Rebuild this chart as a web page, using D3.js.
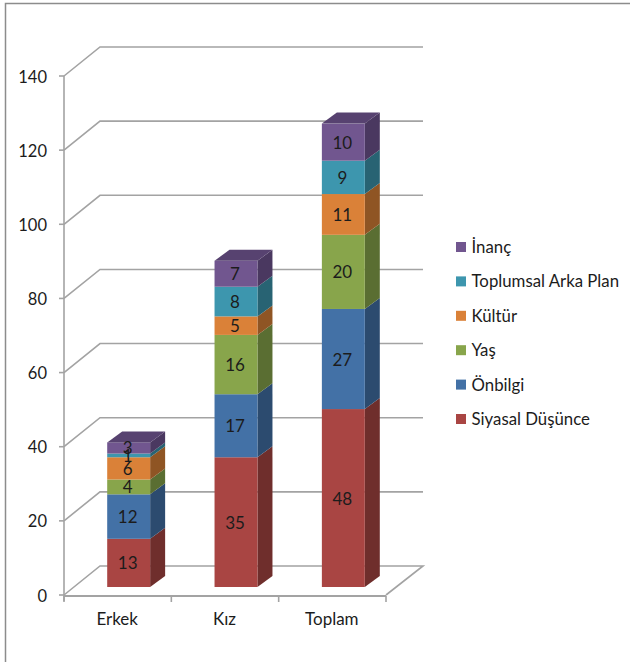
<!DOCTYPE html>
<html><head><meta charset="utf-8">
<script src="https://cdn.jsdelivr.net/npm/d3@7/dist/d3.min.js"></script>
<style>html,body{margin:0;padding:0;background:#fff}svg{display:block}text{font-family:Lato,"Open Sans",sans-serif;fill:#1c1c1c}</style>
</head><body><svg id="c" width="630" height="662"></svg>
<script>
const categories = ["Erkek","Kız","Toplam"];
const seriesNames = ["Siyasal Düşünce","Önbilgi","Yaş","Kültür","Toplumsal Arka Plan","İnanç"];
const siyasal = [13,35,48];
const onbilgi = [12,17,27];
const yas = [4,16,20];
const kultur = [6,5,11];
const toplumsal = [1,8,9];
const inanc = [3,7,10];
const tickValues = [0,20,40,60,80,100,120,140];
const frontColors = ["#A94543","#4371A6","#88A54B","#DA8138","#3D96AE","#71568F"];
const sideColors = ["#6F2E2C","#2C4B6F","#5A6E32","#8F5524","#286373","#4A3860"];
const topColor = "#574270";
const gridColor = "#a3a3a3";

const seriesValues = [siyasal,onbilgi,yas,kultur,toplumsal,inanc];
const svg = d3.select("#c");
const y = d3.scaleLinear().domain([0,140]).range([595,76]);
const xAxis = d3.scaleBand().domain(categories).range([64,386]);
const x = d3.scaleBand().domain(categories).range([75,397]).paddingInner(0.6).paddingOuter(0.3);
const wall = {dx:36, dy:-29, right:423};
const barDepth = {dx:15, dy:-11}, barBase = -8;

// frame
svg.append("path").attr("d","M5.5,662V3.5H630").attr("fill","none").attr("stroke","#8c8c8c").attr("stroke-width",1.5);

// gridlines on side and back walls
const g = svg.append("g").attr("fill","none").attr("stroke",gridColor).attr("stroke-width",1.6);
g.selectAll("path.grid").data(tickValues.filter(d=>d>0)).join("path").attr("class","grid")
  .attr("d",d=>`M${xAxis.range()[0]},${y(d)}L${xAxis.range()[0]+wall.dx},${y(d)+wall.dy}H${wall.right}`);
// floor
const x0=xAxis.range()[0], x1=xAxis.range()[1];
g.append("path").attr("d",`M${x0},${y(0)}L${x0+wall.dx},${y(0)+wall.dy}H${wall.right}L${x1},${y(0)}`);
g.append("path").attr("d",`M${x0},${y(140)}V${y(0)+6}`);
g.append("path").attr("stroke-width",2).attr("d",`M${x0},${y(0)+1}H${x1}`);
const step=xAxis.step();
g.selectAll("path.xt").data(d3.range(categories.length+1)).join("path").attr("class","xt")
  .attr("d",i=>`M${x0+i*step},${y(0)+1}v6`);
g.selectAll("path.yt").data(tickValues).join("path").attr("class","yt")
  .attr("d",d=>`M${x0-5},${y(d)}H${x0}`);

// y labels
svg.selectAll("text.yl").data(tickValues).join("text").attr("class","yl")
  .attr("x",47).attr("y",d=>y(d)+6.5).attr("text-anchor","end").attr("font-size",16.5).text(d=>d);
// x labels
svg.selectAll("text.xl").data(categories).join("text").attr("class","xl")
  .attr("x",c=>xAxis(c)+step/2-0.5).attr("y",625).attr("text-anchor","middle").attr("font-size",17).text(d=>d);

// bars
const bars = svg.append("g");
categories.forEach((c,ci)=>{
  let cum=0;
  const bx=x(c), bw=x.bandwidth();
  const Y=v=>y(v)+barBase;
  seriesValues.forEach((vals,si)=>{
    const v=vals[ci], yb=Y(cum), yt=Y(cum+v);
    bars.append("path").attr("fill",sideColors[si])
      .attr("d",`M${bx+bw},${yb}L${bx+bw+barDepth.dx},${yb+barDepth.dy}V${yt+barDepth.dy}L${bx+bw},${yt}Z`);
    bars.append("rect").attr("x",bx).attr("y",yt).attr("width",bw).attr("height",yb-yt).attr("fill",frontColors[si]);
    cum+=v;
  });
  const yt=Y(cum);
  bars.append("path").attr("fill",topColor)
    .attr("d",`M${bx},${yt}L${bx+barDepth.dx},${yt+barDepth.dy}H${bx+bw+barDepth.dx}L${bx+bw},${yt}Z`);
  cum=0;
  seriesValues.forEach(vals=>{
    const v=vals[ci];
    svg.append("text").attr("x",bx+bw/2-1).attr("y",Y(cum+v/2)+6.5).attr("text-anchor","middle").attr("font-size",17).text(v);
    cum+=v;
  });
});

// legend
const legendY = d3.scalePoint().domain(d3.range(6)).range([419,247]);
seriesNames.forEach((n,i)=>{
  svg.append("rect").attr("x",456).attr("y",legendY(i)-5).attr("width",10).attr("height",10).attr("fill",frontColors[i]);
  svg.append("text").attr("x",471.5).attr("y",legendY(i)+6).attr("font-size",16.8).text(n);
});
</script></body></html>
